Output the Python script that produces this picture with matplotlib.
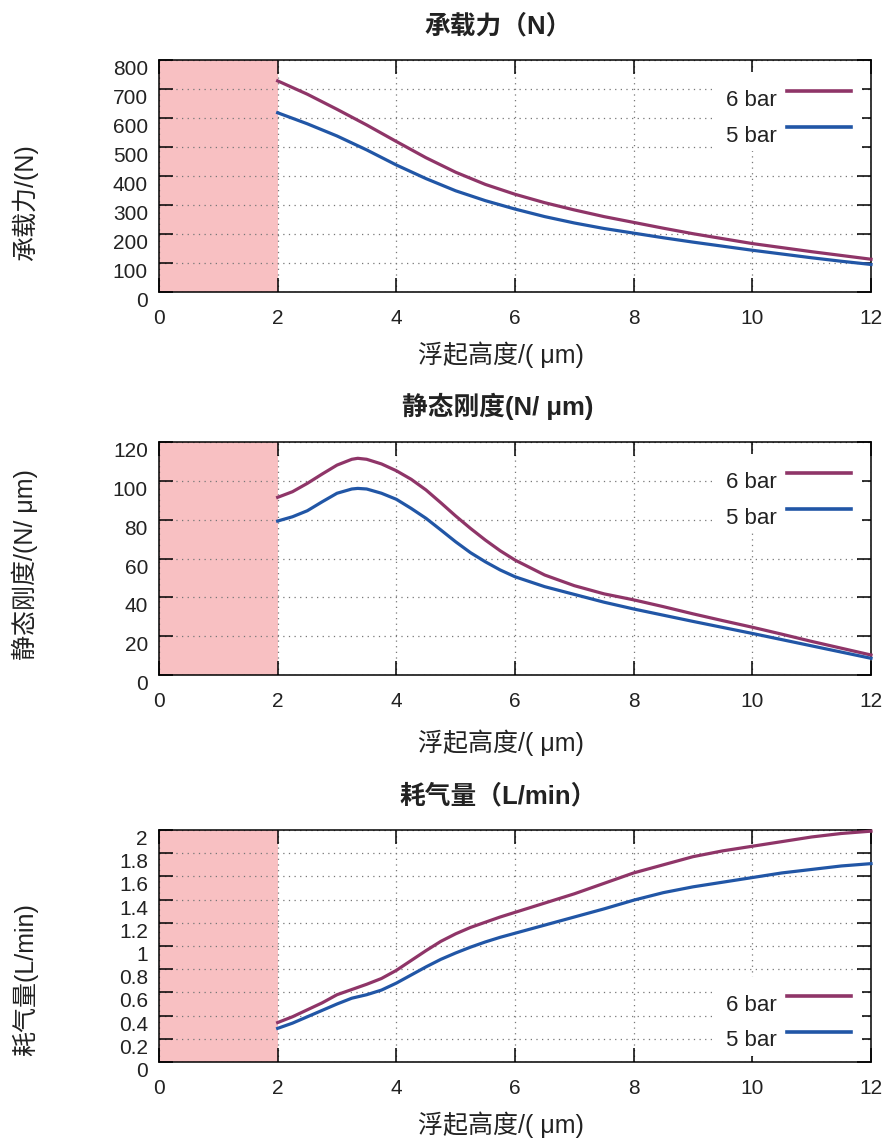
"""
浮起高度-性能曲线（承载力 / 静态刚度 / 耗气量）
"""
import matplotlib
matplotlib.use('Agg')
from matplotlib import pyplot as plt

plt.rcParams['font.family'] = ['Liberation Sans', 'Noto Sans CJK SC', 'DejaVu Sans']
plt.rcParams['axes.unicode_minus'] = False

# 浮起高度 (um)
hLoad = [2, 2.5, 3, 3.5, 4, 4.5, 5, 5.5, 6, 6.5, 7, 7.5, 8, 8.5, 9, 9.5, 10, 10.5, 11, 11.5, 12]
load6 = [728, 682, 630, 576, 519, 463, 413, 371, 337, 308, 283, 260, 240, 220, 201, 184, 167, 153, 139, 126, 113]
load5 = [618, 580, 538, 490, 438, 391, 349, 315, 286, 260, 238, 219, 203, 187, 172, 158, 144, 131, 118, 106, 95]

hStiff = [2, 2.25, 2.5, 2.75, 3, 3.25, 3.35, 3.5, 3.75, 4, 4.25, 4.5, 4.75, 5, 5.25, 5.5, 5.75, 6,
          6.5, 7, 7.5, 8, 8.5, 9, 9.5, 10, 10.5, 11, 11.5, 12]
stiff6 = [91.5, 94.4, 98.7, 103.5, 108.1, 111.1, 111.6, 111.1, 108.7, 105.2, 100.8, 95.3, 88.7, 81.9, 75.5, 69.5, 64.0, 59.2,
          51.5, 46.0, 41.8, 38.7, 35.2, 31.5, 28.0, 24.6, 21.0, 17.3, 13.8, 10.3]
stiff5 = [79.3, 81.5, 84.6, 89.2, 93.6, 95.8, 96.1, 95.8, 93.6, 90.5, 85.8, 80.7, 74.7, 68.6, 63.0, 58.3, 54.1, 50.6,
          45.5, 41.5, 37.5, 34.0, 30.8, 27.6, 24.5, 21.4, 18.2, 15.0, 11.8, 8.6]

hFlow = [2, 2.25, 2.5, 2.75, 3, 3.25, 3.5, 3.75, 4, 4.25, 4.5, 4.75, 5, 5.25, 5.5, 5.75, 6,
         6.5, 7, 7.5, 8, 8.5, 9, 9.5, 10, 10.5, 11, 11.5, 12]
flow6 = [0.34, 0.39, 0.45, 0.51, 0.58, 0.625, 0.67, 0.72, 0.79, 0.875, 0.96, 1.04, 1.105, 1.16, 1.205, 1.25, 1.29,
         1.37, 1.45, 1.54, 1.63, 1.70, 1.77, 1.82, 1.86, 1.90, 1.94, 1.97, 1.99]
flow5 = [0.29, 0.335, 0.39, 0.445, 0.50, 0.55, 0.58, 0.62, 0.68, 0.75, 0.82, 0.885, 0.94, 0.99, 1.035, 1.075, 1.11,
         1.18, 1.25, 1.32, 1.395, 1.46, 1.51, 1.55, 1.59, 1.63, 1.66, 1.69, 1.71]

xTicks = [0, 2, 4, 6, 8, 10, 12]
loadTicks = [0, 100, 200, 300, 400, 500, 600, 700, 800]
stiffTicks = [0, 20, 40, 60, 80, 100, 120]
flowTicks = [0, 0.2, 0.4, 0.6, 0.8, 1, 1.2, 1.4, 1.6, 1.8, 2]
flowLabels = ['0', '0.2', '0.4', '0.6', '0.8', '1', '1.2', '1.4', '1.6', '1.8', '2']

c6 = '#8F3568'
c5 = '#2156A6'
pink = '#F8C0C2'
txt = '#222222'
W, H = 889, 1139

plt.rcParams['legend.fontsize'] = 16
plt.rcParams['legend.handlelength'] = 2.88
plt.rcParams['legend.handletextpad'] = 0.45
plt.rcParams['legend.labelspacing'] = 0.65
plt.rcParams['legend.borderpad'] = 0.5
plt.rcParams['legend.borderaxespad'] = 0
plt.rcParams['legend.fancybox'] = False

fig = plt.figure(figsize=(W / 100, H / 100), dpi=100)


def px_axes(top, bottom, left=159, right=871):
    return fig.add_axes([left / W, 1 - bottom / H, (right - left) / W, (bottom - top) / H])


def draw_one(ax, x, y6, y5, yTicks, yLabels, yMax, legendLoc):
    """ 画单个子图 """
    ax.axvspan(0, 2, color=pink, lw=0, zorder=0)
    ax.plot(x, y6, color=c6, lw=2.3, label='6 bar', zorder=3, clip_on=False)
    ax.plot(x, y5, color=c5, lw=2.3, label='5 bar', zorder=3, clip_on=False)
    ax.set_xlim(0, 12)
    ax.set_ylim(0, yMax)
    ax.set_xticks(xTicks)
    ax.set_xticklabels([str(t) for t in xTicks], fontsize=15, color=txt)
    ax.set_yticks(yTicks)
    ax.set_yticklabels(yLabels, fontsize=15, color=txt, va='top')
    ax.tick_params(direction='in', top=True, right=True, length=10, width=1.1)
    ax.tick_params(axis='x', pad=12)
    ax.tick_params(axis='y', pad=8)
    ax.grid(True, ls=(0, (1, 3.5)), color='#777777', lw=0.9)
    for s in ax.spines.values():
        s.set_linewidth(1.1)
    if legendLoc == 'upper':
        leg = ax.legend(loc='upper right', bbox_to_anchor=(0.9874, 0.948), markerfirst=False)
    else:
        leg = ax.legend(loc='lower right', bbox_to_anchor=(0.9874, 0.028), markerfirst=False)
    fr = leg.get_frame()
    fr.set_facecolor('white')
    fr.set_edgecolor('white')
    fr.set_alpha(1)
    fr.set_linewidth(0)
    for t in leg.get_texts():
        t.set_color(txt)
        t.set_y(-7)  # 文字比线略低
    for ln in leg.get_lines():
        ln.set_linewidth(2.6)


ax1 = px_axes(60, 292)
draw_one(ax1, hLoad, load6, load5, loadTicks, [str(t) for t in loadTicks], 800, 'upper')
ax2 = px_axes(442, 675)
draw_one(ax2, hStiff, stiff6, stiff5, stiffTicks, [str(t) for t in stiffTicks], 120, 'upper')
ax3 = px_axes(830, 1062)
draw_one(ax3, hFlow, flow6, flow5, flowTicks, flowLabels, 2, 'lower')

# 标题 / 坐标轴名
titles = ['承载力（N）', '静态刚度(N/ μm)', '耗气量（L/min）']
titleY = [26, 406, 796]
yNames = ['承载力/(N)', '静态刚度/(N/ μm)', '耗气量(L/min)']
yNameY = [203, 565, 980]
xNameY = [355, 743, 1125]
for t, ty, yn, yy, xy in zip(titles, titleY, yNames, yNameY, xNameY):
    fig.text(498 / W, 1 - ty / H, t, ha='center', va='center', fontsize=18.5,
             fontweight='bold', color=txt)
    fig.text(25 / W, 1 - yy / H, yn, ha='center', va='center', fontsize=18,
             rotation=90, color=txt)
    fig.text(501 / W, 1 - xy / H, '浮起高度/( μm)', ha='center', va='center',
             fontsize=18, color=txt)

fig.savefig('out.png', dpi=100)
